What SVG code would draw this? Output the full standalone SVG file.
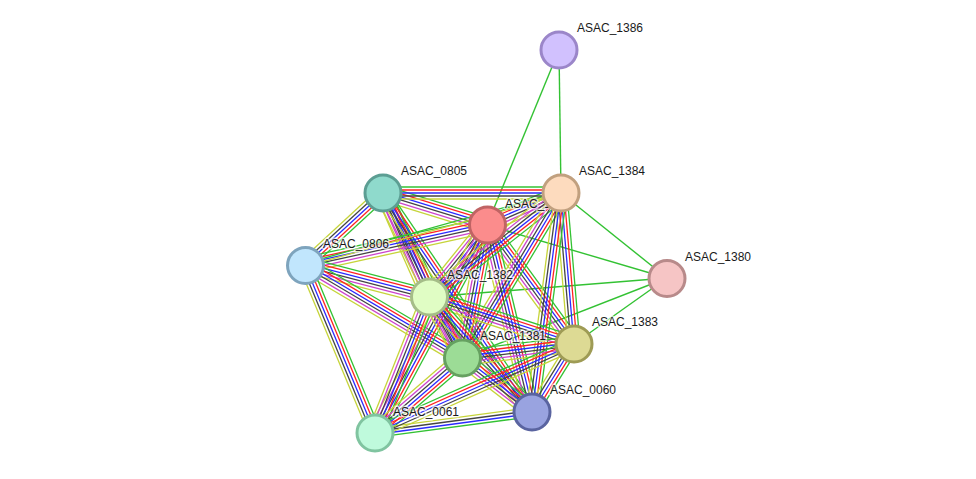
<svg xmlns="http://www.w3.org/2000/svg" xmlns:xlink="http://www.w3.org/1999/xlink" width="976" height="479" viewBox="0 0 976 479">
<style>
.lbl{font-family:"Liberation Sans",Arial,sans-serif;font-size:12px;fill:#1a1a1a;stroke:#fff;stroke-width:3px;stroke-opacity:0.65;paint-order:stroke;stroke-linejoin:round}
.node circle{stroke-width:3px}
.g1{stroke:#33c233;stroke-width:1.4px;fill:none}
</style>
<defs>
<g id="b6" fill="none" stroke-width="1.3">
<line x1="0" y1="-7.5" x2="1" y2="-7.5" stroke="#33c233"/>
<line x1="0" y1="-4.5" x2="1" y2="-4.5" stroke="#ff2222"/>
<line x1="0" y1="-1.5" x2="1" y2="-1.5" stroke="#2a2aff"/>
<line x1="0" y1="1.5" x2="1" y2="1.5" stroke="#444444"/>
<line x1="0" y1="4.5" x2="1" y2="4.5" stroke="#cc44cc"/>
<line x1="0" y1="7.5" x2="1" y2="7.5" stroke="#c6d43a"/>
</g>
<g id="b5" fill="none" stroke-width="1.3">
<line x1="0" y1="-6" x2="1" y2="-6" stroke="#33c233"/>
<line x1="0" y1="-3" x2="1" y2="-3" stroke="#ff2222"/>
<line x1="0" y1="0" x2="1" y2="0" stroke="#2a2aff"/>
<line x1="0" y1="3" x2="1" y2="3" stroke="#444444"/>
<line x1="0" y1="6" x2="1" y2="6" stroke="#c6d43a"/>
</g>
<g id="b4" fill="none" stroke-width="1.3">
<line x1="0" y1="-4.5" x2="1" y2="-4.5" stroke="#c6d43a"/>
<line x1="0" y1="-1.5" x2="1" y2="-1.5" stroke="#444444"/>
<line x1="0" y1="1.5" x2="1" y2="1.5" stroke="#2a2aff"/>
<line x1="0" y1="4.5" x2="1" y2="4.5" stroke="#33c233"/>
</g>
<g id="b2" fill="none" stroke-width="1.3">
<line x1="0" y1="-1.5" x2="1" y2="-1.5" stroke="#33c233"/>
<line x1="0" y1="1.5" x2="1" y2="1.5" stroke="#c6d43a"/>
</g>
</defs>
<rect width="976" height="479" fill="#ffffff"/>
<g id="edges">
<line class="g1" x1="559" y1="50" x2="487" y2="225"/>
<line class="g1" x1="559" y1="50" x2="561" y2="193"/>
<line class="g1" x1="561" y1="193" x2="667" y2="278"/>
<line class="g1" x1="487" y1="225" x2="667" y2="278"/>
<line class="g1" x1="429" y1="297" x2="667" y2="278"/>
<line class="g1" x1="462" y1="358" x2="667" y2="278"/>
<line class="g1" x1="574" y1="344" x2="667" y2="278"/>
<use xlink:href="#b6" transform="translate(487 225) rotate(-23.4) scale(80.6 1)"/>
<use xlink:href="#b6" transform="translate(383 193) rotate(17.1) scale(108.8 1)"/>
<use xlink:href="#b5" transform="translate(383 193) rotate(0) scale(178 1)"/>
<use xlink:href="#b5" transform="translate(383 193) rotate(137.3) scale(106.2 1)"/>
<use xlink:href="#b6" transform="translate(383 193) rotate(66.1) scale(113.7 1)"/>
<use xlink:href="#b6" transform="translate(383 193) rotate(64.4) scale(182.9 1)"/>
<use xlink:href="#b5" transform="translate(383 193) rotate(55.8) scale(264.9 1)"/>
<use xlink:href="#b6" transform="translate(305 265) rotate(-12.4) scale(186.3 1)"/>
<use xlink:href="#b2" transform="translate(305 265) rotate(-15.7) scale(265.9 1)"/>
<use xlink:href="#b6" transform="translate(305 265) rotate(14.5) scale(128.1 1)"/>
<use xlink:href="#b6" transform="translate(305 265) rotate(30.6) scale(182.5 1)"/>
<use xlink:href="#b5" transform="translate(305 265) rotate(67.4) scale(182 1)"/>
<use xlink:href="#b6" transform="translate(487 225) rotate(128.9) scale(92.5 1)"/>
<use xlink:href="#b6" transform="translate(487 225) rotate(100.6) scale(135.3 1)"/>
<use xlink:href="#b6" transform="translate(487 225) rotate(53.8) scale(147.4 1)"/>
<use xlink:href="#b6" transform="translate(487 225) rotate(76.5) scale(192.3 1)"/>
<use xlink:href="#b6" transform="translate(487 225) rotate(118.3) scale(236.2 1)"/>
<use xlink:href="#b6" transform="translate(561 193) rotate(141.8) scale(168 1)"/>
<use xlink:href="#b6" transform="translate(561 193) rotate(121) scale(192.4 1)"/>
<use xlink:href="#b5" transform="translate(561 193) rotate(85.1) scale(151.6 1)"/>
<use xlink:href="#b5" transform="translate(561 193) rotate(97.5) scale(220.9 1)"/>
<use xlink:href="#b6" transform="translate(429 297) rotate(61.6) scale(69.4 1)"/>
<use xlink:href="#b6" transform="translate(429 297) rotate(18) scale(152.4 1)"/>
<use xlink:href="#b6" transform="translate(429 297) rotate(48.2) scale(154.4 1)"/>
<use xlink:href="#b6" transform="translate(429 297) rotate(111.7) scale(146.3 1)"/>
<use xlink:href="#b6" transform="translate(462 358) rotate(-7.1) scale(112.9 1)"/>
<use xlink:href="#b6" transform="translate(462 358) rotate(37.6) scale(88.4 1)"/>
<use xlink:href="#b6" transform="translate(462 358) rotate(139.2) scale(114.9 1)"/>
<use xlink:href="#b4" transform="translate(375 433) rotate(-7.6) scale(158.4 1)"/>
<use xlink:href="#b5" transform="translate(375 433) rotate(-24.1) scale(218 1)"/>
<use xlink:href="#b5" transform="translate(574 344) rotate(121.7) scale(79.9 1)"/>
</g>
<g id="n1386" class="node"><circle cx="559" cy="50" r="18" fill="#d1c1fe" stroke="#9b86c9"/><text class="lbl" x="577" y="32">ASAC_1386</text></g>
<g id="n0805" class="node"><circle cx="383" cy="193" r="18" fill="#8fdacc" stroke="#5c9e93"/><text class="lbl" x="401" y="175">ASAC_0805</text></g>
<g id="n1385" class="node"><circle cx="487.5" cy="225" r="18" fill="#fb8c8c" stroke="#c06464"/><text class="lbl" x="505" y="208">ASAC_1385</text></g>
<g id="n1384" class="node"><circle cx="561" cy="193" r="18" fill="#fddbbe" stroke="#c1a07f"/><text class="lbl" x="579" y="175">ASAC_1384</text></g>
<g id="n0806" class="node"><circle cx="305.5" cy="265.5" r="18" fill="#c1e6fd" stroke="#7ea4bd"/><text class="lbl" x="323" y="248">ASAC_0806</text></g>
<g id="n1382" class="node"><circle cx="429.5" cy="297" r="18" fill="#e0fdc4" stroke="#a5bd88"/><text class="lbl" x="447" y="279">ASAC_1382</text></g>
<g id="n1380" class="node"><circle cx="667" cy="278.5" r="18" fill="#f6c5c5" stroke="#b88a8a"/><text class="lbl" x="685" y="261">ASAC_1380</text></g>
<g id="n1383" class="node"><circle cx="574" cy="344" r="18" fill="#ddda94" stroke="#9e9b55"/><text class="lbl" x="592" y="326">ASAC_1383</text></g>
<g id="n1381" class="node"><circle cx="462.5" cy="358" r="18" fill="#9cdc96" stroke="#66a060"/><text class="lbl" x="480" y="340">ASAC_1381</text></g>
<g id="n0060" class="node"><circle cx="532" cy="412" r="18" fill="#99a3e0" stroke="#5a64a0"/><text class="lbl" x="550" y="394">ASAC_0060</text></g>
<g id="n0061" class="node"><circle cx="375" cy="433" r="18" fill="#bffadc" stroke="#80c4a0"/><text class="lbl" x="393" y="416">ASAC_0061</text></g>
</svg>
